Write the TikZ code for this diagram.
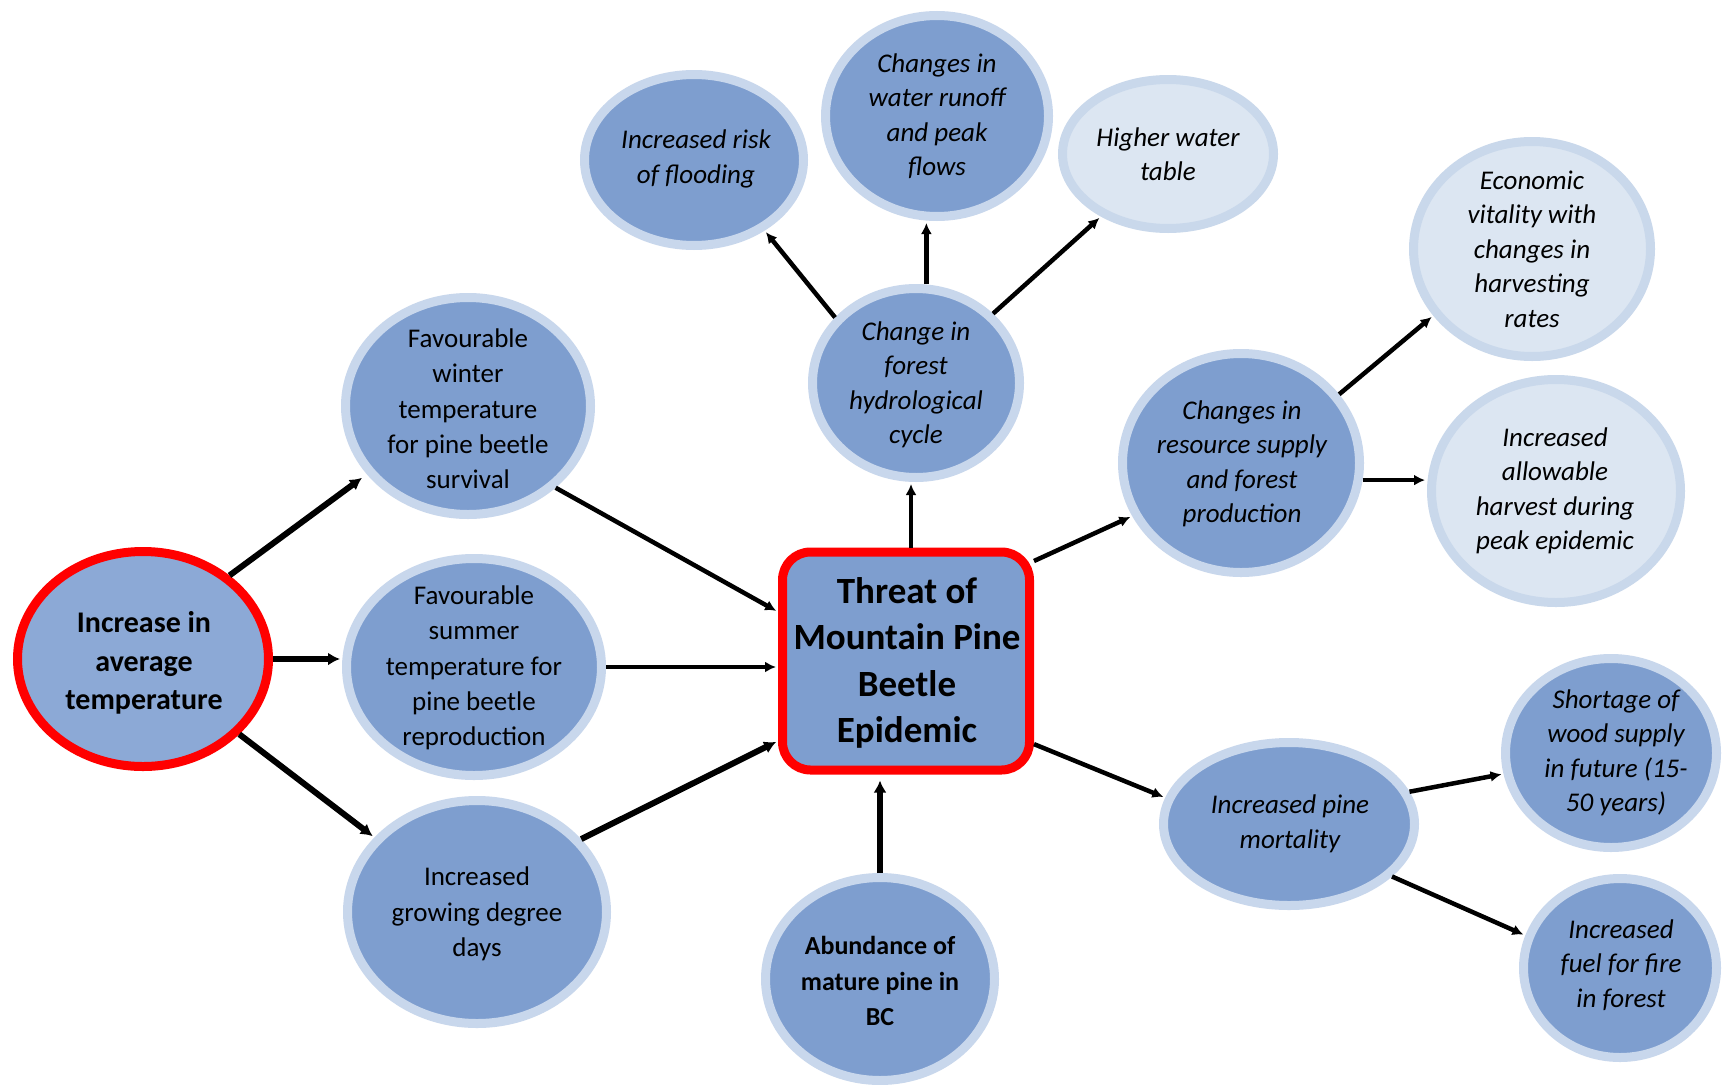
\documentclass[tikz,border=0pt]{standalone}
\usepackage{fontspec}
\setmainfont{Carlito}
\usetikzlibrary{shapes.geometric,arrows.meta,calc}
\definecolor{blobfill}{HTML}{7E9ECF}
\definecolor{blobring}{HTML}{C8D7EC}
\definecolor{lightfill}{HTML}{DCE6F2}
\definecolor{lightring}{HTML}{C9D8EB}
\definecolor{startfill}{HTML}{8CA9D6}
\definecolor{redring}{HTML}{FF0000}
\tikzset{
  blob/.style={ellipse, draw=blobring, fill=blobfill, line width=9pt, inner sep=0pt},
  lightblob/.style={ellipse, draw=lightring, fill=lightfill, line width=9pt, inner sep=0pt},
  redblob/.style={ellipse, draw=redring, fill=startfill, line width=9pt, inner sep=0pt},
  mainbox/.style={rectangle, rounded corners=28pt, draw=redring, fill=blobfill, line width=9pt, inner sep=0pt, minimum width=247pt, minimum height=218pt},
  txtr/.style={align=center, inner sep=0pt, font=\fontsize{27}{35.3}\selectfont},
  txti/.style={align=center, inner sep=0pt, font=\fontsize{27}{34.5}\selectfont\itshape},
  txtb/.style={align=center, inner sep=0pt, font=\fontsize{26}{35.5}\selectfont\bfseries},
  txtstart/.style={align=center, inner sep=0pt, font=\fontsize{30}{38.6}\selectfont\bfseries},
  txtmain/.style={align=center, inner sep=0pt, font=\fontsize{37}{46.3}\selectfont\bfseries},
  arr/.style={line width=4.5pt, -{Latex[length=11pt,width=11pt]}, shorten >=2pt},
  thickarr/.style={arr, line width=6pt, -{Latex[length=12pt,width=13pt]}}
}
\begin{document}
\begin{tikzpicture}[x=1pt,y=-1pt]
\useasboundingbox[fill=white] (0,0) rectangle (1728,1084);
% nodes
\node[redblob, minimum width=251pt, minimum height=215pt] (start) at (143,659) {};
\node[txtstart] (tstart) at (144,663) {Increase in\\average\\temperature};
\node[blob, minimum width=245pt, minimum height=217pt] (winter) at (468,406) {};
\node[txtr] (twinter) at (468,409) {Favourable\\winter\\temperature\\for pine beetle\\survival};
\node[blob, minimum width=255pt, minimum height=217pt] (summer) at (474,667) {};
\node[txtr] (tsummer) at (474,668) {Favourable\\summer\\temperature for\\pine beetle\\reproduction};
\node[blob, minimum width=259pt, minimum height=223pt] (growing) at (477,912) {};
\node[txtr] (tgrowing) at (477,914) {Increased\\growing degree\\days};
\node[mainbox] (box) at (906,661) {};
\node[txtmain] (tbox) at (907,663) {Threat of\\Mountain Pine\\Beetle\\Epidemic};
\node[blob, minimum width=229pt, minimum height=203pt] (abund) at (880,979) {};
\node[txtb] (tabund) at (880,981) {Abundance of\\mature pine in\\BC};
\node[blob, minimum width=207pt, minimum height=189pt] (hydro) at (916,383) {};
\node[txti] (thydro) at (916,385) {Change in\\forest\\hydrological\\cycle};
\node[blob, minimum width=219pt, minimum height=171pt] (flood) at (694,160) {};
\node[txti] (tflood) at (696,159) {Increased risk\\of flooding};
\node[blob, minimum width=223pt, minimum height=201pt] (runoff) at (937,116) {};
\node[txti] (trunoff) at (937,116) {Changes in\\water runoff\\and peak\\flows};
\node[lightblob, minimum width=211pt, minimum height=149pt] (table) at (1168,154) {};
\node[txti] (ttable) at (1168,154) {Higher water\\table};
\node[blob, minimum width=237pt, minimum height=219pt] (resource) at (1241,463) {};
\node[txti] (tresource) at (1242,464) {Changes in\\resource supply\\and forest\\production};
\node[lightblob, minimum width=237pt, minimum height=215pt] (econ) at (1532,249) {};
\node[txti] (tecon) at (1532,249) {Economic\\vitality with\\changes in\\harvesting\\rates};
\node[lightblob, minimum width=249pt, minimum height=223pt] (allow) at (1556,491) {};
\node[txti] (tallow) at (1555,491) {Increased\\allowable\\harvest during\\peak epidemic};
\node[blob, minimum width=251pt, minimum height=163pt] (mort) at (1289,824) {};
\node[txti] (tmort) at (1290,824) {Increased pine\\mortality};
\node[blob, minimum width=211pt, minimum height=189pt] (short) at (1611,753) {};
\node[txti] (tshort) at (1616,753) {Shortage of\\wood supply\\in future (15-\\50 years)};
\node[blob, minimum width=193pt, minimum height=179pt] (fuel) at (1620,968) {};
\node[txti] (tfuel) at (1621,965) {Increased\\fuel for fire\\in forest};
% connectors
\draw[thickarr, shorten >=6pt] (start.44) -- (winter.214);
\draw[thickarr] (start.east) -- (start.east -| summer.west);
\draw[thickarr] (start.-38) -- (growing.144);
\draw[arr] (winter.-43) -- (box.159);
\draw[arr] (summer.east) -- (box.west |- summer.east);
\draw[thickarr] (growing.35) -- (box.212);
\draw[thickarr, shorten >=6pt] (abund.north) -- (abund.north |- box.south);
\draw[arr] ($(hydro.south |- box.north)+(-5,0)$) -- ($(hydro.south)+(-5,0)$);
\draw[arr] (hydro.141) -- (flood.-45);
\draw[arr] (hydro.84) -- (hydro.84 |- runoff.south);
\draw[arr] (hydro.42) -- (table.223);
\draw[arr] (box.38) -- (resource.206);
\draw[arr] (resource.35) -- (econ.214);
\draw[arr] (resource.352) -- (resource.352 -| allow.west);
\draw[arr] (box.-33) -- (mort.168);
\draw[arr] (mort.15) -- (short.191);
\draw[arr] (mort.-27) -- (fuel.161);
\end{tikzpicture}
\end{document}
